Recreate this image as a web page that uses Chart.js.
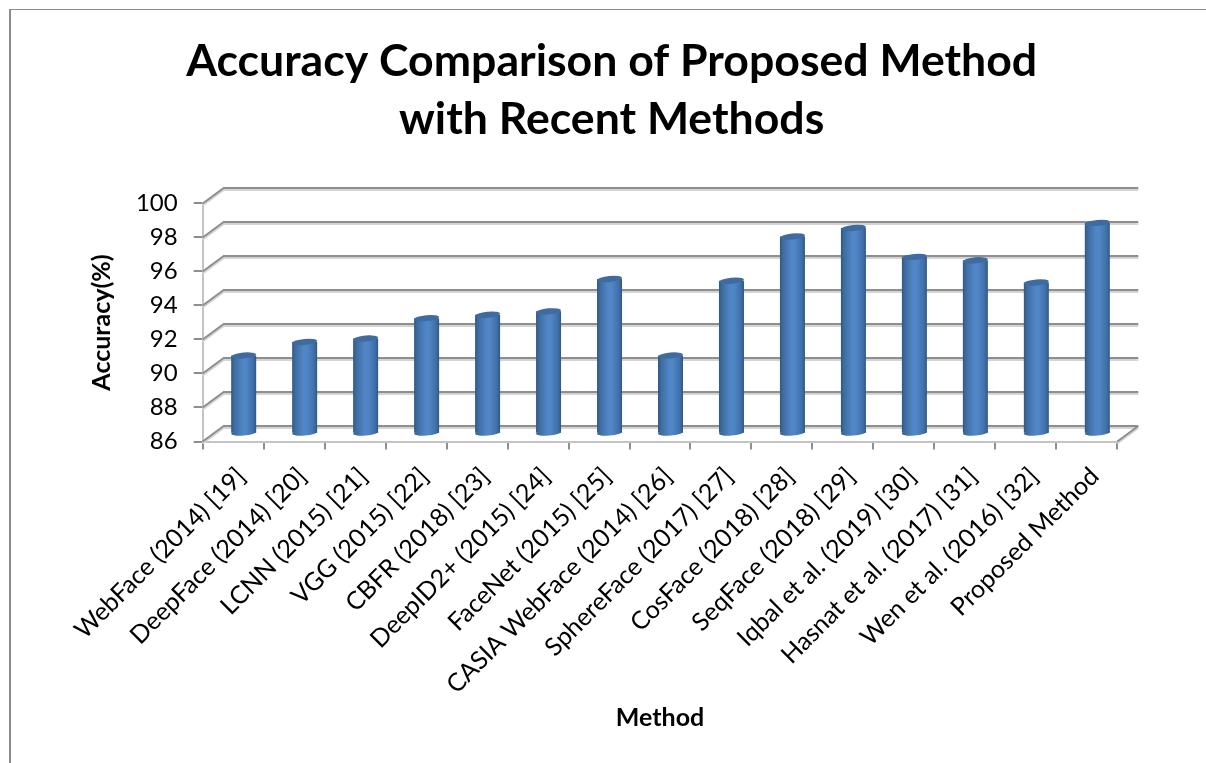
<!DOCTYPE html>
<html>
<head>
<meta charset="utf-8">
<title>Accuracy Comparison</title>
<script src="https://cdn.jsdelivr.net/npm/chart.js@4"></script>
<style>
  html, body { margin: 0; padding: 0; background: #fff; overflow: hidden; }
  #wrap { position: absolute; left: 0; top: 0; width: 1206px; height: 763px; }
  #frame { position: absolute; left: 9px; top: 9px; width: 1300px; height: 800px; border-left: 2px solid #8c8c8c; border-top: 1px solid #8c8c8c; box-sizing: border-box; }
  canvas { position: absolute; left: 0; top: 0; }
</style>
</head>
<body>
<div id="wrap">
  <div id="frame"></div>
  <canvas id="chart" width="1206" height="763"></canvas>
</div>
<script>
const methods = [
  "WebFace (2014) [19]", "DeepFace (2014) [20]", "LCNN (2015) [21]", "VGG (2015) [22]",
  "CBFR (2018) [23]", "DeepID2+ (2015) [24]", "FaceNet (2015) [25]", "CASIA WebFace (2014) [26]",
  "SphereFace (2017) [27]", "CosFace (2018) [28]", "SeqFace (2018) [29]", "Iqbal et al. (2019) [30]",
  "Hasnat et al. (2017) [31]", "Wen et al. (2016) [32]", "Proposed Method",
];
const accuracy = [90.6, 91.4, 91.6, 92.8, 93, 93.2, 95.1, 90.6, 95, 97.6, 98.1, 96.4, 96.2, 94.9, 98.4];
const titleLines = ["Accuracy Comparison of Proposed Method", "with Recent Methods"];

// depth of the fake 3D box, px
const depthX = 21;
const depthY = 15.5;
const fontName = "Lato";

function barFill(context) {
  const chart = context.chart;
  const x = chart.scales.x ? chart.scales.x.getPixelForValue(context.dataIndex) : NaN;
  const half = chart.scales.x ? chart.scales.x.width / methods.length * 0.41 / 2 : NaN;
  if (!Number.isFinite(x) || !Number.isFinite(half)) return "#4f85c4"; // before layout
  const g = chart.ctx.createLinearGradient(x - half, 0, x + half, 0);
  g.addColorStop(0, "#2f5785");
  g.addColorStop(0.12, "#3e6c9f");
  g.addColorStop(0.45, "#5085c6");
  g.addColorStop(0.6, "#5085c6");
  g.addColorStop(0.88, "#3f6fa6");
  g.addColorStop(1, "#2f5785");
  return g;
}

const box3d = {
  id: "box3d",
  beforeDatasetsDraw(chart) {
    const { ctx, chartArea, scales } = chart;
    const yScale = scales.y;
    ctx.save();
    for (const offset of [2, 0]) {
      ctx.strokeStyle = offset ? "#d4d4d4" : "#8e8e8e";
      ctx.lineWidth = 2;
      ctx.beginPath();
      for (const v of yScale.ticks.map((t) => t.value)) {
        const y = yScale.getPixelForValue(v) + offset;
        ctx.moveTo(chartArea.left, y);
        ctx.lineTo(chartArea.left + depthX, y - depthY);
        ctx.lineTo(chartArea.right + depthX, y - depthY);
      }
      ctx.moveTo(chartArea.right, chartArea.bottom + offset);
      ctx.lineTo(chartArea.right + depthX, chartArea.bottom - depthY + offset);
      ctx.stroke();
    }
    ctx.restore();
  },
  beforeDatasetDraw(chart) {
    chart.ctx.save();
    chart.ctx.translate(depthX / 2, -depthY / 2);
  },
  afterDatasetDraw(chart, args) {
    const ctx = chart.ctx;
    args.meta.data.forEach((bar, i) => {
      const half = bar.width / 2;
      // bottom cap, then the top face
      ctx.fillStyle = barFill({ chart, dataIndex: i });
      ctx.beginPath();
      ctx.ellipse(bar.x, bar.base, half, 2.8, -0.09, 0, Math.PI * 2);
      ctx.fill();
      ctx.fillStyle = "#3f6b9e";
      ctx.beginPath();
      ctx.ellipse(bar.x, bar.y, half, 3, -0.09, 0, Math.PI * 2);
      ctx.fill();
    });
    ctx.restore();
  },
};

new Chart(document.getElementById("chart"), {
  type: "bar",
  data: {
    labels: methods,
    datasets: [{ label: "Accuracy(%)", data: accuracy, base: 86, backgroundColor: barFill, borderWidth: 0, categoryPercentage: 0.41, barPercentage: 1, clip: false }],
  },
  plugins: [box3d],
  options: {
    responsive: false,
    animation: false,
    layout: { padding: { left: 106, right: 88.7, top: 0, bottom: 30 } },
    plugins: {
      legend: { display: false },
      tooltip: { enabled: false },
      title: {
        display: true,
        text: titleLines,
        color: "#000",
        font: { family: fontName, size: 44.6, weight: "bold", lineHeight: 1.3 },
        padding: { top: 33, bottom: 54.5 },
      },
    },
    scales: {
      x: {
        grid: { drawOnChartArea: false, color: "#8e8e8e", lineWidth: 2, tickLength: 8 },
        border: { color: "#c4c4c4", width: 2 },
        ticks: { color: "#000", font: { family: fontName, size: 25 }, maxRotation: 45, minRotation: 45, autoSkip: false, padding: 12, labelOffset: 8 },
        title: { display: true, text: "Method", color: "#000", font: { family: fontName, size: 25, weight: "bold" }, padding: { top: 4, bottom: 0 } },
        afterFit(axis) { axis.height = 291.5; },
      },
      y: {
        min: 86,
        max: 100,
        grid: { drawOnChartArea: false, color: "#8e8e8e", lineWidth: 2, tickLength: 9 },
        border: { color: "#c4c4c4", width: 2 },
        ticks: { stepSize: 2, color: "#000", font: { family: fontName, size: 24 }, padding: 16 },
        title: { display: true, text: "Accuracy(%)", color: "#000", font: { family: fontName, size: 25, weight: "bold" }, padding: { top: -19, bottom: 4 } },
        afterFit(axis) { axis.width = 96.7; },
      },
    },
  },
});
</script>
</body>
</html>
